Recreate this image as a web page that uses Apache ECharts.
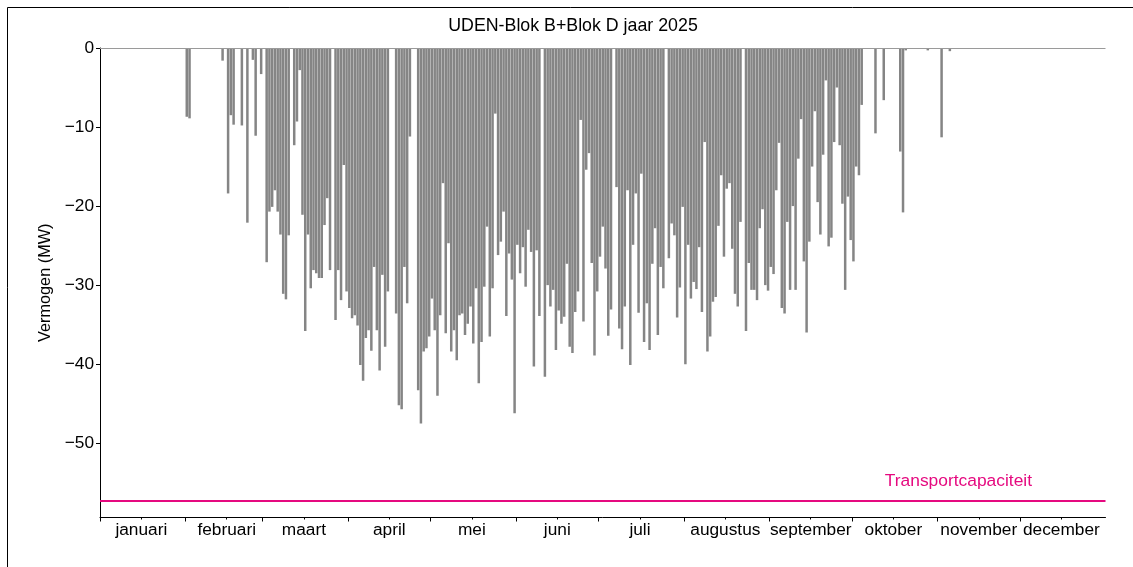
<!DOCTYPE html>
<html>
<head>
<meta charset="utf-8">
<script src="https://cdn.jsdelivr.net/npm/echarts@6/dist/echarts.min.js"></script>
<style>
html,body{margin:0;padding:0;background:#ffffff;}
#chart{width:1133px;height:567px;}
</style>
</head>
<body>
<div id="chart"></div>
<script>
// ---- data (daily peak feed-in, MW, negative = teruglevering) ----
const monthNames = ['januari','februari','maart','april','mei','juni','juli','augustus','september','oktober','november','december'];
const monthStartDays = [0,31,59,90,120,151,181,212,243,273,304,334];
const monthMidDays = [15,46,74,105,135,166,196,227,258,288,319,349];
const yTickValues = [0,-10,-20,-30,-40,-50];
const transportCapacity = -57.3;

const jan = [0,0,0,0,0,0,0,0,0,0,0,0,0,0,0,0,0,0,0,0,0,0,0,0,0,0,0,0,0,0,0];
const feb = [-8.7,-8.9,0,0,0,0,0,0,0,0,0,0,0,-1.6,0,-18.4,-8.5,-9.7,0,0,-9.8,0,-22.1,0,-1.5,-11.1,0,-3.3];
const mrt = [0,-27.1,-20.7,-20.1,-18.0,-20.7,-23.6,-31.1,-31.8,-23.7,0,-12.3,-9.3,-2.8,-21.1,-35.8,-23.6,-30.4,-28.1,-28.5,-29.1,-29.1,-22.4,-19.0,-28.1,0,-34.4,-28.1,-31.9,-14.8,-30.8];
const apr = [-32.9,-34.2,-33.8,-35.1,-40.1,-42.1,-36.7,-35.7,-38.3,-27.7,-35.7,-40.8,-28.7,-37.8,-30.8,0,0,-33.6,-45.2,-45.7,-27.7,-32.3,-11.2,0,0,-43.3,-47.5,-38.4,-38.0,-36.5];
const mei = [-31.7,-35.7,-44.0,-33.8,-17.1,-36.1,-24.7,-38.4,-35.7,-39.5,-33.8,-33.6,-36.3,-34.9,-32.7,-37.4,-30.4,-42.4,-37.2,-30.2,-22.6,-36.5,-30.4,-8.3,-26.2,-24.5,-20.7,-33.9,-26.0,-29.3,-46.2];
const jun = [-24.9,-28.5,-25.2,-30.2,-23.0,-25.8,-40.3,-25.6,-33.9,0,-41.6,-30.0,-32.7,-30.6,-38.2,-33.2,-34.9,-34.0,-27.3,-37.8,-38.6,-33.4,-30.8,-9.1,-34.6,-15.4,-13.3,-27.2,-38.9,-30.8];
const jul = [-26.4,-22.6,-27.9,-36.4,-33.1,0,-17.6,-35.5,-38.1,-32.7,-18.0,-40.1,-24.9,-18.4,-33.5,-15.9,-37.2,-32.3,-38.2,-27.3,-22.8,-36.3,-27.7,-30.4,0,-26.6,-22.2,-23.7,-34.1,-30.3,-20.1];
const aug = [-40.0,-24.9,-31.7,-29.6,-30.5,-25.2,-33.4,-11.9,-38.4,-36.5,-32.1,-31.5,-22.5,-16.1,-26.4,-17.8,-17.1,-25.4,-31.1,-32.7,-22.0,0,-35.8,-27.2,-30.6,-30.6,-31.9,-22.8,-20.4,-30.0,-30.7];
const sep = [-27.7,-28.6,-18.0,-12.0,-32.9,-33.6,-22.0,-30.6,-20.0,-30.6,-14.0,-9.0,-27.0,-36.0,-24.5,-15.0,-8.0,-19.5,-23.6,-13.5,-4.1,-25.1,-24.0,-11.9,-5.0,-12.3,-19.7,-30.6,-18.8,-24.3];
const okt = [-27.0,-15.0,-16.1,-7.2,0,0,0,0,-10.8,0,0,-6.6,0,0,0,0,0,-13.1,-20.8,-0.3,0,0,0,0,0,0,0,-0.3,0,0,0];
const nov = [0,-11.3,0,0,-0.4,0,0,0,0,0,0,0,0,0,0,0,0,0,0,0,0,0,0,0,0,0,0,0,0,0];
const dec = [0,0,0,0,0,0,0,0,0,0,0,0,0,0,0,0,0,0,0,0,0,0,0,0,0,0,0,0,0,0,0];

// ---- build ----
const allDays = [].concat(jan,feb,mrt,apr,mei,jun,jul,aug,sep,okt,nov,dec);
const barData = allDays.map((v,i)=>[i+0.5, v]);
const yearLength = allDays.length;

const FONT = 'Liberation Sans, Arial, sans-serif';
const PINK = '#e5097f';
const minus = v => v < 0 ? '\u2212' + Math.abs(v) : String(v);

const chart = echarts.init(document.getElementById('chart'), null, {renderer:'canvas'});
chart.setOption({
  animation:false,
  backgroundColor:'#ffffff',
  textStyle:{fontFamily:FONT},
  title:{
    text:'UDEN-Blok B+Blok D jaar 2025',
    left:568, top:12, textAlign:'center',
    textStyle:{fontFamily:FONT,fontSize:17.8,fontWeight:'normal',color:'#000'}
  },
  graphic:[{
    type:'polyline', silent:true,
    shape:{points:[[7.5,600],[7.5,7.5],[1200,7.5]]},
    style:{stroke:'#000',lineWidth:1,fill:null}
  }],
  grid:{left:100,right:27.5,top:48,bottom:49.5,containLabel:false},
  xAxis:[{
    type:'value', min:0, max:yearLength,
    axisLine:{show:true,onZero:false,lineStyle:{color:'#000',width:1}},
    axisTick:{show:true,customValues:monthStartDays,length:4,lineStyle:{color:'#000'}},
    axisLabel:{show:false},
    splitLine:{show:false}
  },{
    type:'value', min:0, max:yearLength, position:'bottom',
    axisLine:{show:false,onZero:false},
    axisTick:{show:true,customValues:monthMidDays,length:2,lineStyle:{color:'#000'}},
    axisLabel:{show:true,customValues:monthMidDays,margin:4,
      fontFamily:FONT,fontSize:17.3,color:'#000',
      formatter:v=>monthNames[monthMidDays.indexOf(v)]},
    splitLine:{show:false}
  }],
  yAxis:{
    type:'value', min:-59.4, max:0,
    name:'Vermogen (MW)', nameLocation:'middle', nameGap:45, nameRotate:90,
    nameTextStyle:{fontFamily:FONT,fontSize:16.3,color:'#000'},
    axisLine:{show:true,onZero:false,lineStyle:{color:'#000',width:1}},
    axisTick:{show:true,customValues:yTickValues,length:4,lineStyle:{color:'#000'}},
    axisLabel:{show:true,customValues:yTickValues,margin:6,fontFamily:FONT,fontSize:17.3,color:'#000',formatter:minus},
    splitLine:{show:false}
  },
  series:[{
    type:'bar', name:'Vermogen', xAxisIndex:0,
    data:barData, barWidth:2.5,
    itemStyle:{color:'#858585'},
    markLine:{
      silent:true, symbol:['none','none'],
      label:{show:false},
      data:[
        {yAxis:0, lineStyle:{color:'#9a9a9a',width:1,type:'solid'}},
        {yAxis:transportCapacity, lineStyle:{color:PINK,width:2,type:'solid'}}
      ]
    },
    markPoint:{
      silent:true, symbol:'circle', symbolSize:0,
      data:[{coord:[311.6, transportCapacity], value:'Transportcapaciteit'}],
      label:{show:true,position:'inside',offset:[0,-20],formatter:'Transportcapaciteit',
        fontFamily:FONT,fontSize:17.4,color:PINK}
    }
  }]
});
</script>
</body>
</html>
